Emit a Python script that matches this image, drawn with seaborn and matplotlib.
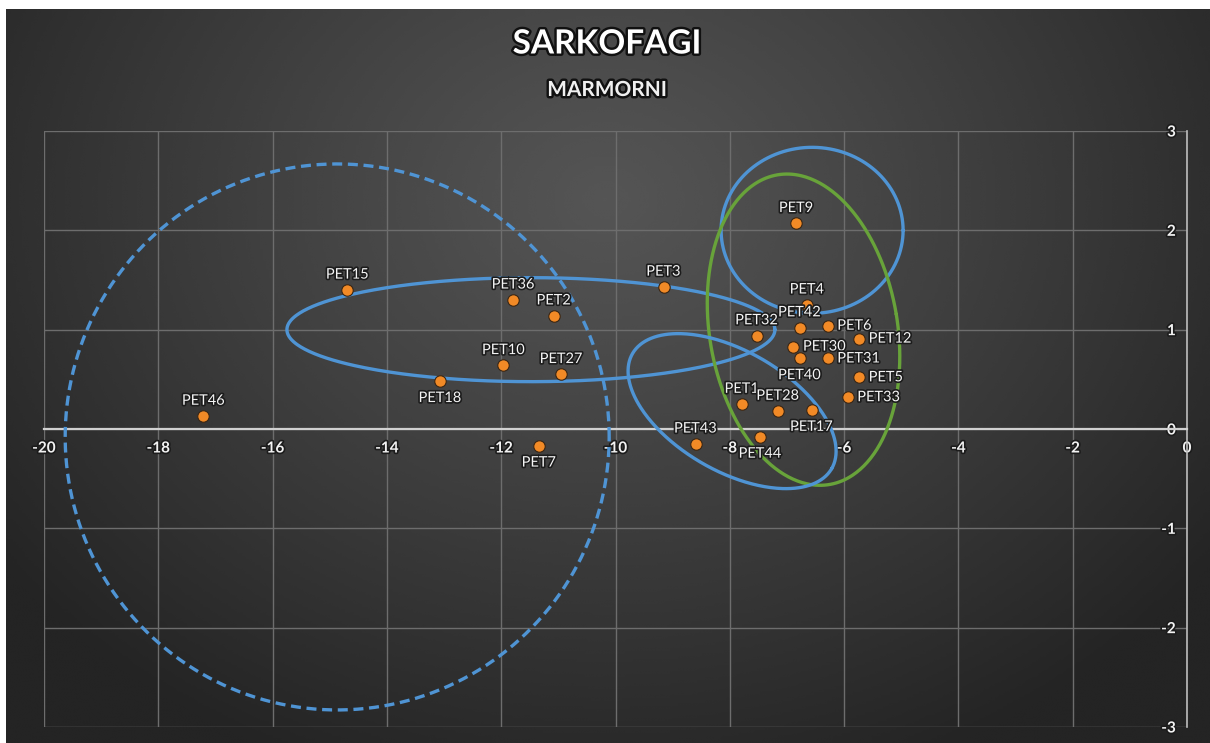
import numpy as np
import pandas as pd
import matplotlib
matplotlib.use("Agg")
import matplotlib.pyplot as plt
import matplotlib.patheffects as pe
import seaborn as sns

# sample labels and coordinates
labels = ['PET46', 'PET15', 'PET36', 'PET2', 'PET10', 'PET27', 'PET18', 'PET7',
          'PET3', 'PET43', 'PET1', 'PET44', 'PET28', 'PET17', 'PET32', 'PET9',
          'PET4', 'PET42', 'PET6', 'PET12', 'PET30', 'PET40', 'PET31', 'PET5', 'PET33']
x_vals = [-17.21, -14.69, -11.79, -11.08, -11.96, -10.95, -13.07, -11.34,
          -9.16, -8.60, -7.79, -7.47, -7.16, -6.57, -7.53, -6.84,
          -6.65, -6.78, -6.29, -5.74, -6.89, -6.78, -6.29, -5.74, -5.94]
y_vals = [0.13, 1.40, 1.30, 1.14, 0.64, 0.55, 0.48, -0.17,
          1.43, -0.15, 0.25, -0.08, 0.18, 0.19, 0.94, 2.07,
          1.25, 1.02, 1.04, 0.91, 0.83, 0.71, 0.71, 0.52, 0.32]
# where each label sits relative to its point
label_side = ['up', 'up', 'up', 'up', 'up', 'up', 'down', 'down',
              'up', 'up', 'up', 'down', 'up', 'down', 'up', 'up',
              'up', 'up', 'right', 'right', 'right', 'down', 'right', 'right', 'right']

x_ticks = list(range(-20, 1, 2))
y_ticks = list(range(-3, 4))

# group outlines: centre (data), semi-axes (px), rotation (deg, screen), colour, dashed
group_cx = [-14.87, -11.48, -6.56, -6.71, -7.96]
group_cy = [-0.08, 1.00, 2.00, 1.00, 0.18]
group_a = [272, 244, 91, 94, 115]
group_b = [273, 52, 83, 157, 60]
group_rot = [0, 0, 0, 9.5, -30]
group_col = ['#4f94d4', '#4f94d4', '#4f94d4', '#68a33a', '#4f94d4']
group_dash = [True, False, False, False, False]

df = pd.DataFrame({'label': labels, 'x': x_vals, 'y': y_vals, 'side': label_side})

W, H = 1210, 743
sns.set_style("dark")
plt.rcParams['font.family'] = ['Lato', 'DejaVu Sans']
plt.rcParams['axes.unicode_minus'] = False

fig = plt.figure(figsize=(W / 100, H / 100), dpi=100)
fig.patch.set_facecolor('white')

# radial dark-grey backdrop
bg = fig.add_axes([6 / W, 0, 1 - 6 / W, 1 - 9 / H], zorder=0)
gx, gy = np.meshgrid(np.linspace(0, 1204, 400), np.linspace(0, 734, 250))
r = np.sqrt(((gx - 600) / 760) ** 2 + ((gy - 190) / 620) ** 2)
r = np.clip(r, 0, 1)
light, dark = 0x55, 0x24
shade = (light + (dark - light) * r ** 1.1) / 255.0
bg.imshow(shade, cmap='gray', vmin=0, vmax=1, aspect='auto',
          extent=[0, 1, 0, 1], interpolation='bicubic')
bg.set_axis_off()

ax = fig.add_axes([44 / W, 16 / H, 1143 / W, 596 / H], zorder=1)
ax.patch.set_alpha(0)
ax.set_xlim(-20, 0)
ax.set_ylim(-3, 3)
ax.set_xticks(x_ticks)
ax.set_yticks(y_ticks)
ax.grid(True, color='#6d6d6d', linewidth=1.0)
ax.set_axisbelow(True)

for s in ['top', 'right']:
    ax.spines[s].set_visible(False)
ax.spines['bottom'].set_position(('data', 0))
ax.spines['left'].set_position(('data', 0))
ax.spines['bottom'].set_color('#d0d0d0')
ax.spines['left'].set_color('#bdbdbd')
ax.spines['bottom'].set_linewidth(1.6)
ax.spines['left'].set_linewidth(1.2)

outline = [pe.withStroke(linewidth=2.4, foreground='#1c1c1c')]
ax.tick_params(axis='both', length=0, labelsize=11, labelcolor='#f2f2f2')
ax.tick_params(axis='x', pad=9)
ax.tick_params(axis='y', pad=8)
for t in ax.get_xticklabels() + ax.get_yticklabels():
    t.set_path_effects(outline)
    t.set_fontweight('bold')

# group outlines, drawn in screen proportions
pos = ax.get_position()
sx = pos.width * W / 20.0
sy = pos.height * H / 6.0
t = np.linspace(0, 2 * np.pi, 400)
for cx, cy, a, b, rot, col, dash in zip(group_cx, group_cy, group_a, group_b,
                                        group_rot, group_col, group_dash):
    th = np.deg2rad(rot)
    u, v = a * np.cos(t), b * np.sin(t)
    px = u * np.cos(th) - v * np.sin(th)
    py = u * np.sin(th) + v * np.cos(th)
    ax.plot(cx + px / sx, cy + py / sy, color=col, linewidth=2.4,
            linestyle=(0, (3, 1.7)) if dash else '-', zorder=3,
            solid_capstyle='round')

sns.scatterplot(data=df, x='x', y='y', ax=ax, color='#f28a26',
                edgecolor='#3a2614', linewidth=0.8, s=68, zorder=5, legend=False)
ax.set_xlabel('')
ax.set_ylabel('')

offsets = {'up': ((0, 6), 'center', 'bottom'),
           'down': ((0, -7), 'center', 'top'),
           'right': ((7, 0), 'left', 'center')}
for _, row in df.iterrows():
    off, ha, va = offsets[row['side']]
    ax.annotate(row['label'], (row['x'], row['y']), xytext=off,
                textcoords='offset points', ha=ha, va=va, fontsize=10.5,
                color='#f4f4f4', zorder=6, path_effects=outline)

title_fx = [pe.withStroke(linewidth=3.5, foreground='#111111')]
fig.text(607 / W, 1 - 44 / H, 'SARKOFAGI', ha='center', va='center',
         fontsize=24, fontweight='bold', color='white', path_effects=title_fx)
fig.text(607 / W, 1 - 90 / H, 'MARMORNI', ha='center', va='center',
         fontsize=15, fontweight='bold', color='#f0f0f0', path_effects=title_fx)

fig.savefig('out.png', dpi=100)
